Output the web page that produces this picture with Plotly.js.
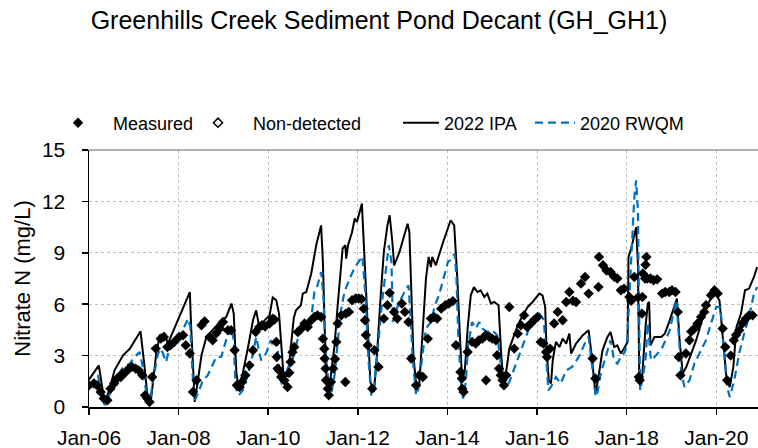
<!DOCTYPE html>
<html>
<head>
<meta charset="utf-8">
<script src="https://cdn.plot.ly/plotly-3.0.1.min.js"></script>
<style>html,body{margin:0;padding:0;background:#fff;}#chart{width:758px;height:448px;}</style>
</head>
<body>
<div id="chart"></div>
<script>
// Time is expressed in decimal years
const tickYears = [2006, 2008, 2010, 2012, 2014, 2016, 2018, 2020];
const tickLabels = ["Jan-06", "Jan-08", "Jan-10", "Jan-12", "Jan-14", "Jan-16", "Jan-18", "Jan-20"];

const ipaYears = [2006.00,2006.22,2006.35,2006.46,2006.57,2006.76,2006.91,2007.15,2007.24,2007.32,2007.39,2007.50,2007.58,2007.69,2007.76,2007.87,2008.25,2008.28,2008.36,2008.43,2008.51,2008.62,2008.76,2008.92,2009.06,2009.18,2009.23,2009.29,2009.34,2009.43,2009.55,2009.66,2009.73,2009.80,2009.92,2010.03,2010.10,2010.18,2010.24,2010.29,2010.34,2010.44,2010.50,2010.57,2010.62,2010.73,2010.77,2010.85,2010.96,2011.07,2011.18,2011.22,2011.26,2011.31,2011.37,2011.48,2011.55,2011.63,2011.66,2011.72,2011.74,2011.78,2011.87,2011.93,2011.98,2012.09,2012.13,2012.21,2012.28,2012.36,2012.43,2012.51,2012.58,2012.66,2012.71,2012.77,2012.81,2012.93,2013.11,2013.15,2013.19,2013.24,2013.30,2013.37,2013.45,2013.52,2013.58,2013.63,2013.66,2013.74,2013.88,2014.00,2014.07,2014.15,2014.22,2014.28,2014.33,2014.39,2014.45,2014.52,2014.59,2014.67,2014.74,2014.82,2014.89,2014.97,2015.04,2015.14,2015.20,2015.25,2015.32,2015.38,2015.49,2015.57,2015.68,2015.79,2015.90,2016.05,2016.12,2016.18,2016.21,2016.26,2016.31,2016.35,2016.42,2016.50,2016.57,2016.65,2016.72,2016.76,2016.87,2017.02,2017.15,2017.23,2017.30,2017.37,2017.46,2017.57,2017.64,2017.72,2017.79,2017.87,2017.94,2018.02,2018.04,2018.10,2018.21,2018.25,2018.28,2018.34,2018.42,2018.47,2018.50,2018.53,2018.62,2018.77,2018.85,2018.96,2019.12,2019.18,2019.25,2019.33,2019.44,2019.55,2019.66,2019.77,2019.88,2019.98,2020.07,2020.14,2020.23,2020.30,2020.38,2020.45,2020.55,2020.64,2020.73,2020.84,2020.91];
const ipaValues = [1.60,2.43,0.20,1.07,2.14,3.02,3.40,4.42,2.34,0.20,0.58,3.10,4.19,4.28,3.70,4.38,6.71,4.67,0.30,1.56,3.02,4.09,4.48,4.96,5.25,6.04,5.45,1.95,1.17,1.95,3.50,5.06,5.65,4.67,5.06,5.35,6.40,6.23,5.45,3.70,1.90,1.80,3.50,5.20,5.65,5.94,6.62,6.71,7.79,9.44,10.60,8.47,4.58,1.07,1.27,3.60,5.94,8.17,9.25,9.44,8.66,9.44,10.20,11.00,10.80,11.87,9.83,5.55,1.46,0.88,3.21,6.52,9.05,10.60,11.19,9.63,8.27,9.05,10.70,10.20,6.52,3.02,1.27,1.27,4.58,7.50,8.76,8.17,8.76,8.27,9.44,10.40,10.90,10.60,7.50,3.99,1.46,2.24,4.58,6.52,7.00,6.71,6.81,6.42,6.62,6.04,6.13,5.94,3.02,1.46,2.24,3.41,4.19,4.77,5.35,5.84,6.13,6.62,6.52,5.84,3.50,1.56,1.37,2.73,3.80,3.50,3.99,3.70,4.28,3.12,3.70,4.19,4.48,2.73,0.78,1.75,3.31,4.09,4.38,3.50,3.60,3.12,3.41,3.80,8.76,9.25,10.50,8.37,1.95,1.56,4.67,6.04,6.13,3.60,4.09,4.09,4.28,5.06,6.33,3.90,1.95,2.34,3.12,3.90,4.87,5.84,6.33,6.62,6.23,4.28,1.56,1.17,2.34,4.67,5.45,6.81,6.91,7.59,8.17];

const rwqmYears = [2006.00,2006.20,2006.35,2006.50,2006.68,2006.76,2006.91,2007.02,2007.13,2007.20,2007.28,2007.35,2007.43,2007.54,2007.61,2007.72,2007.80,2007.91,2008.06,2008.21,2008.26,2008.31,2008.36,2008.43,2008.54,2008.65,2008.76,2008.84,2008.95,2009.06,2009.18,2009.23,2009.27,2009.34,2009.43,2009.55,2009.66,2009.73,2009.84,2009.95,2010.06,2010.12,2010.20,2010.24,2010.29,2010.33,2010.43,2010.55,2010.66,2010.77,2010.88,2010.96,2011.03,2011.10,2011.18,2011.23,2011.28,2011.35,2011.40,2011.48,2011.55,2011.63,2011.70,2011.78,2011.85,2011.94,2012.03,2012.10,2012.17,2012.24,2012.30,2012.37,2012.46,2012.54,2012.62,2012.69,2012.75,2012.78,2012.84,2012.93,2013.04,2013.13,2013.17,2013.22,2013.30,2013.35,2013.45,2013.52,2013.63,2013.72,2013.81,2013.92,2014.01,2014.08,2014.16,2014.20,2014.24,2014.30,2014.35,2014.41,2014.46,2014.55,2014.63,2014.71,2014.78,2014.89,2015.00,2015.11,2015.17,2015.23,2015.29,2015.38,2015.49,2015.60,2015.71,2015.82,2015.93,2016.05,2016.15,2016.20,2016.25,2016.31,2016.42,2016.53,2016.65,2016.78,2016.93,2017.08,2017.15,2017.23,2017.30,2017.33,2017.42,2017.53,2017.64,2017.72,2017.79,2017.87,2017.96,2018.01,2018.06,2018.12,2018.17,2018.21,2018.25,2018.27,2018.30,2018.36,2018.42,2018.47,2018.49,2018.54,2018.62,2018.69,2018.80,2018.96,2019.11,2019.16,2019.22,2019.29,2019.40,2019.51,2019.62,2019.77,2019.88,2020.00,2020.09,2020.17,2020.24,2020.30,2020.40,2020.51,2020.62,2020.73,2020.84,2020.91];
const rwqmValues = [1.27,1.85,0.10,0.97,1.95,2.34,2.53,2.92,3.21,2.34,0.78,0.20,1.56,3.12,3.41,2.63,3.50,3.80,4.28,5.16,4.70,1.95,0.39,0.78,1.56,1.85,2.53,2.92,2.92,3.90,4.67,3.90,1.17,0.68,0.97,1.95,3.12,4.09,2.73,3.12,3.90,3.50,3.80,2.34,1.46,1.20,2.24,2.83,3.99,4.58,4.87,5.16,6.71,7.10,7.88,6.52,3.21,1.27,0.68,1.85,3.80,5.74,6.71,7.30,7.69,8.17,8.56,8.80,6.52,2.63,0.68,1.27,3.80,6.13,7.88,9.44,8.47,4.96,5.55,6.13,6.71,7.10,5.55,3.02,0.68,1.07,3.21,4.58,4.96,5.94,6.52,7.69,8.47,8.60,8.96,7.60,4.19,1.46,0.49,1.46,3.60,4.96,4.58,4.96,4.58,4.38,4.48,4.19,3.00,1.46,1.07,1.46,2.24,3.02,3.80,4.58,5.16,5.45,5.10,2.70,0.97,1.17,1.75,1.37,2.14,2.34,2.92,3.80,4.09,2.34,0.78,0.60,1.95,2.92,3.90,2.73,2.53,2.92,3.21,3.90,6.62,9.54,12.26,13.23,11.48,6.60,0.97,1.75,2.73,4.90,4.30,2.73,2.92,3.12,3.50,4.48,6.23,4.20,1.95,1.17,1.56,2.53,3.12,3.90,4.87,5.84,5.84,3.31,1.17,0.58,1.56,3.12,4.28,5.25,6.62,7.00];

const measuredYears = [2006.00,2006.11,2006.18,2006.26,2006.33,2006.41,2006.48,2006.56,2006.63,2006.71,2006.74,2006.82,2006.89,2006.96,2007.04,2007.11,2007.19,2007.25,2007.30,2007.35,2007.41,2007.49,2007.60,2007.67,2007.75,2007.82,2007.90,2008.01,2008.10,2008.16,2008.25,2008.32,2008.40,2008.51,2008.58,2008.69,2008.76,2008.84,2008.92,2008.99,2009.10,2009.17,2009.25,2009.30,2009.36,2009.42,2009.49,2009.58,2009.66,2009.72,2009.80,2009.86,2009.93,2010.03,2010.10,2010.14,2010.18,2010.19,2010.21,2010.24,2010.29,2010.32,2010.36,2010.43,2010.47,2010.50,2010.54,2010.58,2010.66,2010.74,2010.81,2010.88,2010.96,2011.03,2011.10,2011.18,2011.22,2011.25,2011.26,2011.28,2011.29,2011.33,2011.35,2011.40,2011.45,2011.49,2011.52,2011.55,2011.63,2011.72,2011.73,2011.80,2011.87,2011.95,2012.02,2012.08,2012.13,2012.16,2012.18,2012.22,2012.32,2012.37,2012.46,2012.58,2012.66,2012.71,2012.81,2012.88,2012.98,2013.05,2013.13,2013.19,2013.30,2013.37,2013.45,2013.56,2013.63,2013.70,2013.77,2013.86,2013.95,2014.03,2014.12,2014.19,2014.29,2014.32,2014.33,2014.36,2014.45,2014.55,2014.63,2014.70,2014.78,2014.85,2014.86,2014.93,2015.00,2015.08,2015.11,2015.15,2015.19,2015.23,2015.26,2015.31,2015.38,2015.49,2015.57,2015.64,2015.71,2015.78,2015.86,2015.93,2016.01,2016.08,2016.14,2016.20,2016.22,2016.29,2016.38,2016.46,2016.57,2016.65,2016.72,2016.80,2016.87,2016.98,2017.07,2017.15,2017.24,2017.30,2017.37,2017.38,2017.47,2017.55,2017.64,2017.72,2017.79,2017.87,2017.94,2018.06,2018.10,2018.17,2018.25,2018.27,2018.29,2018.34,2018.35,2018.36,2018.41,2018.42,2018.44,2018.46,2018.53,2018.60,2018.68,2018.79,2018.86,2018.95,2019.01,2019.09,2019.14,2019.16,2019.20,2019.32,2019.40,2019.44,2019.51,2019.58,2019.66,2019.73,2019.77,2019.88,2019.96,2020.03,2020.14,2020.20,2020.24,2020.32,2020.39,2020.44,2020.51,2020.58,2020.66,2020.73,2020.81];
const measuredValues = [1.27,1.37,1.27,0.88,0.49,0.39,1.07,1.37,1.66,1.75,1.95,2.04,2.24,2.34,2.24,2.14,1.85,0.68,0.49,0.29,1.75,3.41,3.99,4.09,3.50,3.60,3.80,4.09,4.19,3.60,3.12,0.88,1.56,4.77,5.00,4.09,3.90,4.30,4.58,4.96,4.48,4.48,3.31,1.27,1.17,1.46,1.85,2.43,3.31,4.38,4.67,4.77,4.70,4.87,5.16,5.10,3.80,2.92,2.24,2.14,1.75,1.85,1.56,1.17,2.00,2.63,3.20,3.50,4.38,4.58,4.87,4.67,5.06,5.25,5.35,5.25,3.99,3.40,2.83,2.24,1.56,1.07,0.68,1.46,2.24,2.80,3.80,4.87,5.35,1.46,5.45,5.55,6.23,6.33,6.33,6.30,5.74,5.06,4.20,3.60,1.07,3.31,2.34,5.16,5.94,6.66,5.55,5.16,6.04,5.55,4.96,2.83,1.27,1.85,1.75,3.99,5.16,5.25,5.16,5.74,5.94,6.04,6.18,3.60,2.04,1.66,1.07,0.88,3.21,3.80,3.70,3.90,3.99,4.19,1.56,4.10,3.99,3.90,3.02,2.24,1.85,1.56,1.27,1.85,5.84,3.41,4.28,4.77,5.35,4.67,4.87,5.06,5.25,3.80,3.70,3.21,2.92,3.41,4.87,5.55,5.06,6.13,6.71,6.20,6.13,7.20,7.59,6.62,2.83,1.66,7.00,8.76,8.27,7.97,7.88,7.60,7.50,6.81,6.91,6.42,6.20,7.59,6.40,1.75,1.56,5.45,6.42,7.79,7.50,8.30,8.76,7.50,7.50,7.40,7.45,6.62,6.71,6.71,6.81,6.71,5.55,2.92,1.85,3.12,3.90,4.40,4.58,4.87,5.25,5.55,5.94,6.52,6.81,6.62,4.58,3.50,1.56,3.00,3.90,4.20,4.48,4.87,5.16,5.35,5.35];

// No non-detected samples appear in the chart; the series exists only for its legend entry
const nonDetectedYears = [null];
const nonDetectedValues = [null];

const seriesNames = ["Measured", "Non-detected", "2022 IPA", "2020 RWQM"];

const FONT = "Liberation Sans, Arial, sans-serif";

const traces = [
  {x: ipaYears, y: ipaValues, name: seriesNames[2], type: "scatter", mode: "lines",
   line: {color: "#000000", width: 2}, legend: "legend3"},
  {x: rwqmYears, y: rwqmValues, name: seriesNames[3], type: "scatter", mode: "lines",
   line: {color: "#0070C0", width: 2.2, dash: "8px,5px"}, legend: "legend4"},
  {x: nonDetectedYears, y: nonDetectedValues, name: seriesNames[1], type: "scatter", mode: "markers",
   marker: {symbol: "diamond-open", color: "#000000", size: 7, line: {width: 1.5, color: "#000000"}}, legend: "legend2"},
  {x: measuredYears, y: measuredValues, name: seriesNames[0], type: "scatter", mode: "markers",
   marker: {symbol: "diamond", color: "#000000", size: 8, line: {width: 0}}, legend: "legend"}
];

const legendFont = {family: FONT, size: 18, color: "#000000"};
function legendAt(px, iw) {
  // px: left edge of the legend box in page pixels, converted to paper units
  return {orientation: "h", x: (px - 89) / 669, xanchor: "left", y: 1.105, yanchor: "middle",
          font: legendFont, bgcolor: "rgba(0,0,0,0)", itemwidth: iw};
}

const layout = {
  width: 758, height: 448,
  margin: {l: 89, r: 0, t: 150, b: 41},
  paper_bgcolor: "#ffffff", plot_bgcolor: "#ffffff",
  font: {family: FONT, color: "#000000"},
  title: {text: "Greenhills Creek Sediment Pond Decant (GH_GH1)", font: {family: FONT, size: 25, color: "#000000"},
          x: 0.5, xref: "container", y: 0.955, yref: "container", yanchor: "middle"},
  showlegend: true,
  legend: legendAt(43, 60),
  legend2: legendAt(183, 60),
  legend3: legendAt(398, 36),
  legend4: legendAt(530, 40),
  xaxis: {range: [2006, 2020.93], tickvals: tickYears, ticktext: tickLabels,
          showgrid: true, gridcolor: "#bfbfbf", griddash: "dot", gridwidth: 1,
          showline: true, linecolor: "#000000", linewidth: 2,
          ticks: "outside", ticklen: 6, tickwidth: 1.5, tickcolor: "#000000",
          tickfont: {family: FONT, size: 21, color: "#000000"}, ticklabelstandoff: 5,
          zeroline: false, fixedrange: true},
  yaxis: {range: [0, 15], tickvals: [0, 3, 6, 9, 12, 15],
          title: {text: "Nitrate N (mg/L)", font: {family: FONT, size: 22, color: "#000000"}, standoff: 5},
          showgrid: true, gridcolor: "#bfbfbf", griddash: "dot", gridwidth: 1,
          showline: true, linecolor: "#000000", linewidth: 1.5,
          ticks: "outside", ticklen: 6, tickwidth: 1.5, tickcolor: "#000000",
          tickfont: {family: FONT, size: 21, color: "#000000"}, ticklabelstandoff: 12,
          zeroline: false, fixedrange: true},
  shapes: [{type: "line", xref: "paper", yref: "paper", x0: 0, x1: 1, y0: 1, y1: 1,
            line: {color: "#606060", width: 1}}]
};

Plotly.newPlot("chart", traces, layout, {staticPlot: true, displayModeBar: false});
</script>
</body>
</html>
